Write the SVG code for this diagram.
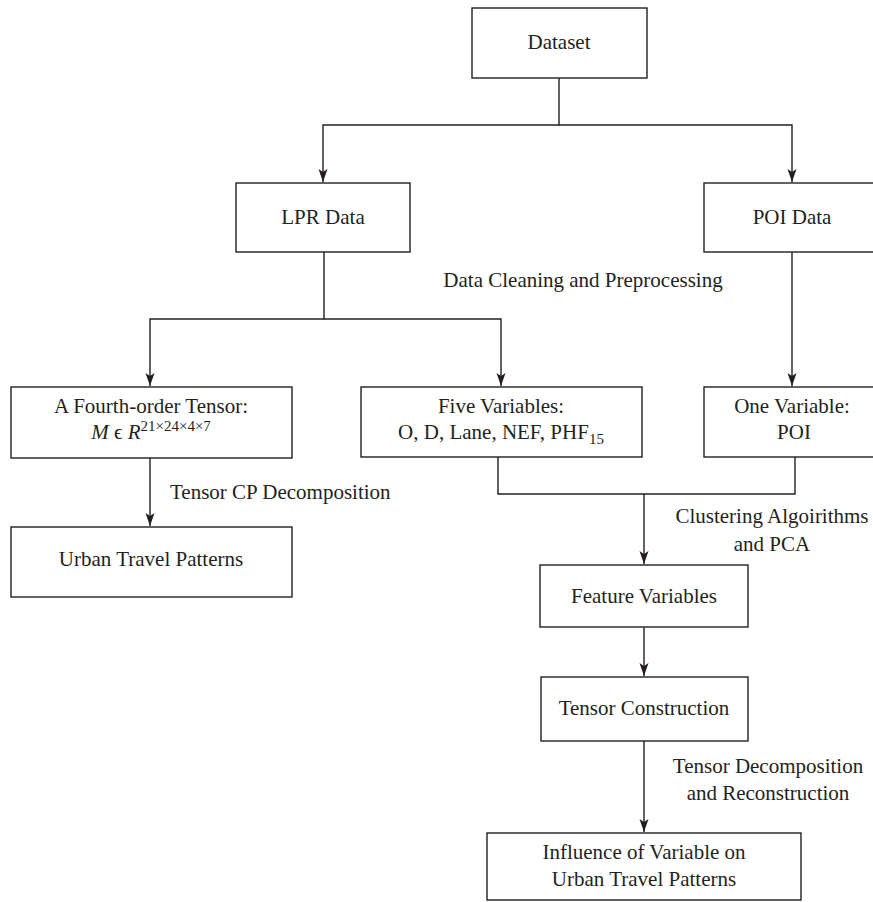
<svg xmlns="http://www.w3.org/2000/svg" width="873" height="902" viewBox="0 0 873 902">
<style>
.box{fill:#fff;stroke:#231f20;stroke-width:1.4}
.t{font-family:"Liberation Serif","Times New Roman",serif;font-size:21px;fill:#231f20;text-anchor:middle}
.l{font-family:"Liberation Serif","Times New Roman",serif;font-size:21px;fill:#231f20}
.c{fill:none;stroke:#231f20;stroke-width:1.4}
.i{font-style:italic}
.s{font-size:15px}
</style>
<defs>
<marker id="ah" markerUnits="userSpaceOnUse" markerWidth="16" markerHeight="12" viewBox="-14 -6 16 12" refX="0" refY="0" orient="auto">
<path d="M0,0 L-13,-4.5 L-10,0 L-13,4.5 Z" fill="#231f20"/>
</marker>
</defs>
<rect width="873" height="902" fill="#fff"/>
<g id="connectors">
<path class="c" d="M559,78 V125 H323 V182" marker-end="url(#ah)"/>
<path class="c" d="M559,125 H792 V182" marker-end="url(#ah)"/>
<path class="c" d="M324,252 V319 H150 V386" marker-end="url(#ah)"/>
<path class="c" d="M324,319 H501 V386" marker-end="url(#ah)"/>
<path class="c" d="M792,252 V386" marker-end="url(#ah)"/>
<path class="c" d="M150,458 V526" marker-end="url(#ah)"/>
<path class="c" d="M498,457 V494 H795 V457"/>
<path class="c" d="M644,494 V564" marker-end="url(#ah)"/>
<path class="c" d="M644,627 V676" marker-end="url(#ah)"/>
<path class="c" d="M644,741 V832" marker-end="url(#ah)"/>
<text class="t" x="583" y="287">Data Cleaning and Preprocessing</text>
<text class="l" x="170" y="499">Tensor CP Decomposition</text>
<text class="t" x="772" y="523">Clustering Algoirithms</text>
<text class="t" x="772" y="551">and PCA</text>
<text class="t" x="768" y="773">Tensor Decomposition</text>
<text class="t" x="768" y="800">and Reconstruction</text>
</g>
<g id="dataset">
<rect class="box" x="472" y="8" width="175" height="70"/>
<text class="t" x="559" y="49">Dataset</text>
</g>
<g id="lpr">
<rect class="box" x="236" y="183" width="174" height="69"/>
<text class="t" x="323" y="224">LPR Data</text>
</g>
<g id="poi">
<rect class="box" x="704" y="183" width="180" height="69"/>
<text class="t" x="792" y="224">POI Data</text>
</g>
<g id="tensor4">
<rect class="box" x="11" y="387" width="281" height="71"/>
<text class="t" x="151" y="413">A Fourth-order Tensor:</text>
<text class="t" x="151" y="439"><tspan class="i">M</tspan> ϵ <tspan class="i">R</tspan><tspan class="s" dy="-8">21×24×4×7</tspan></text>
</g>
<g id="five">
<rect class="box" x="361" y="387" width="281" height="70"/>
<text class="t" x="501" y="413">Five Variables:</text>
<text class="t" x="501" y="439">O, D, Lane, NEF, PHF<tspan class="s" dy="5">15</tspan></text>
</g>
<g id="one">
<rect class="box" x="704" y="387" width="180" height="70"/>
<text class="t" x="792" y="413">One Variable:</text>
<text class="t" x="794" y="439">POI</text>
</g>
<g id="urban">
<rect class="box" x="11" y="527" width="281" height="70"/>
<text class="t" x="151" y="566">Urban Travel Patterns</text>
</g>
<g id="feature">
<rect class="box" x="540" y="565" width="208" height="62"/>
<text class="t" x="644" y="603">Feature Variables</text>
</g>
<g id="construction">
<rect class="box" x="541" y="677" width="207" height="64"/>
<text class="t" x="644" y="715">Tensor Construction</text>
</g>
<g id="influence">
<rect class="box" x="487" y="833" width="314" height="67"/>
<text class="t" x="644" y="859">Influence of Variable on</text>
<text class="t" x="644" y="886">Urban Travel Patterns</text>
</g>
</svg>
